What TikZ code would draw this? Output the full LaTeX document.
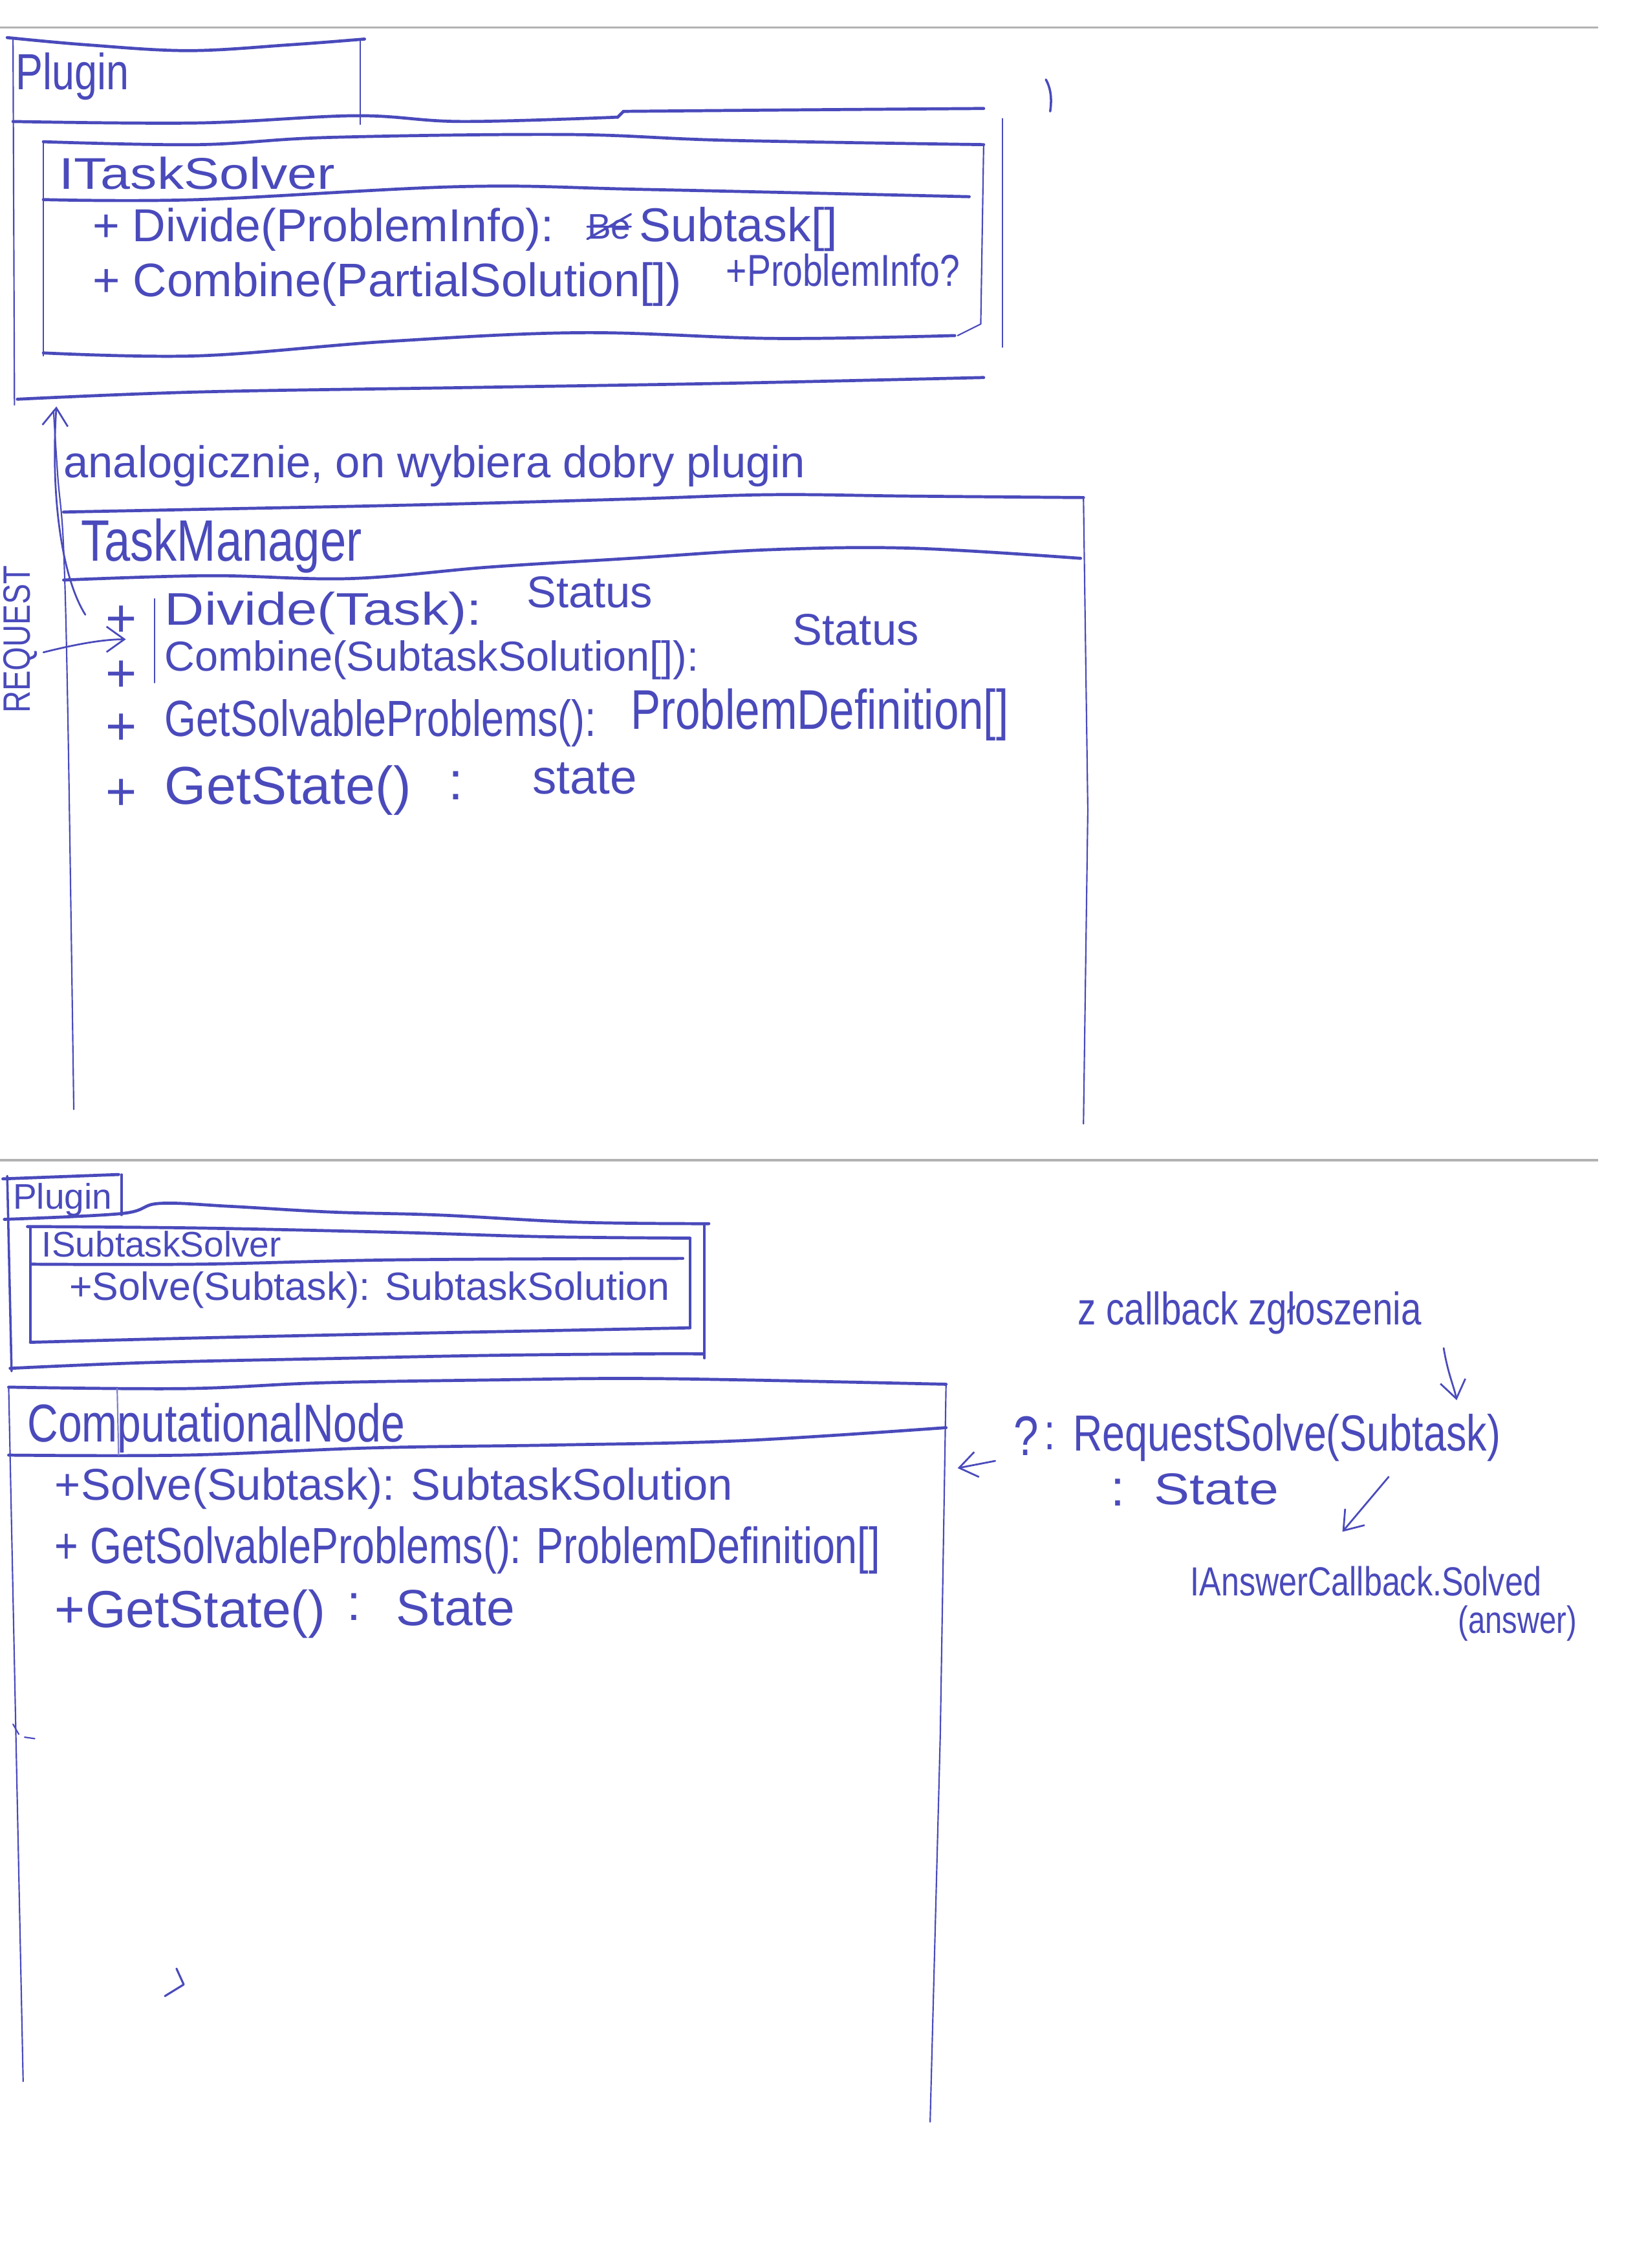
\documentclass[tikz,border=0pt]{standalone}
\usepackage{fontspec}
\newfontfamily\handN[FakeStretch=0.8]{Liberation Sans}
\newfontfamily\handR{Liberation Sans}
\newfontfamily\handW[FakeStretch=1.2]{Liberation Sans}
\newcommand\hN[1]{\handN\fontsize{#1}{#1}\selectfont}
\newcommand\hR[1]{\handR\fontsize{#1}{#1}\selectfont}
\newcommand\hW[1]{\handW\fontsize{#1}{#1}\selectfont}
\usetikzlibrary{arrows.meta}
\definecolor{ink}{RGB}{74,74,188}
\begin{document}
\begin{tikzpicture}[x=0.02cm,y=-0.02cm,
  heavy/.style={draw=ink,line width=1.2pt,line cap=round,line join=round},
  medium/.style={draw=ink,line width=0.9pt,line cap=round,line join=round},
  thin/.style={draw=ink,line width=0.55pt,line cap=round,line join=round},
  scan/.style={draw=black!30,line width=0.9pt},
  txt/.style={text=ink,anchor=base west,inner sep=0pt,outer sep=0pt},
  arr/.style={draw=ink,line width=0.7pt,line cap=round,-{Straight Barb[length=7pt,width=10pt]}},
]
\fill[white] (0,0) rectangle (1130,1568);
\useasboundingbox (0,0) rectangle (1130,1568);

% ---- scan edges
\draw[scan] (0,19) -- (1105,19);
\draw[scan] (0,802) -- (1105,802);

% ================= TOP: Plugin package =================
\draw[heavy] plot[smooth,tension=0.6] coordinates {(5,26) (60,31) (130,35) (200,31) (252,27)};
\draw[thin] (249,27) -- (249,86);
\draw[thin] (9,27) -- (10,280);
\draw[heavy] plot[smooth,tension=0.6] coordinates {(9,84) (137,85) (246,80) (319,84) (427,81)};
\draw[heavy] (427,81) -- (431,77);
\draw[heavy] plot[smooth,tension=0.6] coordinates {(431,77) (547,76) (680,75)};
\draw[thin] (693,82) -- (693,240);
\draw[heavy] plot[smooth,tension=0.6] coordinates {(12,276) (137,271) (319,268) (502,265) (680,261)};
% stray mark
\draw[thin,line width=0.9pt] (723,55) .. controls (727,62) and (727,70) .. (726,77);

% ITaskSolver box
\draw[heavy] plot[smooth,tension=0.6] coordinates {(30,98) (137,100) (228,95) (392,93) (502,97) (680,100)};
\draw[heavy] plot[smooth,tension=0.6] coordinates {(30,138) (137,138) (319,129) (447,131) (670,136)};
\draw[thin] (30,98) -- (30,246);
\draw[thin] (680,100) -- (678,224) -- (662,232);
\draw[heavy] plot[smooth,tension=0.6] coordinates {(30,244) (137,246) (269,236) (402,230) (536,234) (660,232)};

\node[txt,font={\hN{20}}] (plugin1) at (11,62) {Plugin};
\node[txt,font={\hW{17.5}}] (itasksolver) at (41,131) {ITaskSolver};
\node[txt,font={\hR{18.2}}] (divA) at (64,167) {+ Divide(ProblemInfo):};
\node[txt,font={\hR{14}}] (be) at (406,165) {Be};
\draw[thin,line width=0.9pt] (be.south west) -- (be.north east);
\draw[thin,line width=0.9pt] (be.west) -- (be.east);
\node[txt,font={\hR{18.7}}] (divB) at (442,167) {Subtask[]};
\node[txt,font={\hR{18.5}}] (comA) at (64,205) {+ Combine(PartialSolution[])};
\node[txt,font={\hN{17.6}}] (comB) at (502,198) {+ProblemInfo?};

% ================= MIDDLE: TaskManager =================
\node[txt,font={\hR{17.5}}] (note1) at (44,330) {analogicznie, on wybiera dobry plugin};

\draw[thin] plot[smooth,tension=0.6] coordinates {(37,284) (40,330) (44,380) (47,500) (51,767)};
\draw[heavy] plot[smooth,tension=0.6] coordinates {(44,354) (145,352) (291,349) (436,345) (533,342) (630,343) (749,344)};
\draw[thin] (749,344) -- (752,560) -- (749,777);
\draw[heavy] plot[smooth,tension=0.6] coordinates {(44,401) (145,398) (242,400) (339,392) (436,386) (533,380) (630,379) (747,386)};

\node[txt,font={\hN{23}}] (taskmanager) at (56,388) {TaskManager};

\node[txt,font={\hR{21}}] (tp1) at (73,440) {+};
\node[txt,font={\hR{21}}] (tp2) at (73,478) {+};
\node[txt,font={\hR{21}}] (tp3) at (73,515) {+};
\node[txt,font={\hR{21}}] (tp4) at (73,560) {+};
\draw[thin] (107,414) -- (107,472);

\node[txt,font={\hW{18}}] (tmD1) at (114,432) {Divide(Task):};
\node[txt,font={\hR{17.5}}] (tmD2) at (364,420) {Status};
\node[txt,font={\hR{16.5}}] (tmC1) at (114,464) {Combine(SubtaskSolution[]):};
\node[txt,font={\hR{17.5}}] (tmC2) at (548,446) {Status};
\node[txt,font={\hN{20}}] (tmG1) at (114,509) {GetSolvableProblems():};
\node[txt,font={\hN{22}}] (tmG2) at (436,504) {ProblemDefinition[]};
\node[txt,font={\hR{21}}] (tmS1) at (114,556) {GetState()};
\node[txt,font={\hR{21}}] (tmS2) at (310,553) {:};
\node[txt,font={\hR{19}}] (tmS3) at (368,549) {state};

\node[text=ink,inner sep=0pt,rotate=90,font={\hN{15}}] (request) at (14,442) {REQUEST};

% arrows at left
\coordinate (reqS) at (30,451);
\coordinate (reqE) at (87,442);
\draw[arr] (reqS) .. controls (50,446) and (70,442) .. (reqE);
\coordinate (upS) at (59,425);
\coordinate (upE) at (39,281);
\draw[arr] (upS) .. controls (42,398) and (35,340) .. (upE);

% ================= BOTTOM: Plugin package =================
\draw[heavy] (2,815) -- (82,812);
\draw[medium] (84,812) -- (84,840);
\draw[medium] (5,813) -- (8,948);
\draw[heavy] plot[smooth,tension=0.6] coordinates {(3,843) (84,839) (110,832) (159,834) (230,838) (303,840) (400,845) (490,846)};
\draw[medium] (487,846) -- (487,939);
\draw[heavy] plot[smooth,tension=0.6] coordinates {(7,946) (103,942) (240,939) (342,937) (445,936) (486,936)};

% ISubtaskSolver
\draw[heavy] plot[smooth,tension=0.6] coordinates {(19,848) (137,849) (274,852) (376,855) (477,856)};
\draw[medium] (21,848) -- (21,927);
\draw[medium] (477,856) -- (477,918);
\draw[heavy] plot[smooth,tension=0.6] coordinates {(21,928) (137,925) (274,922) (376,920) (477,918)};
\draw[heavy] plot[smooth,tension=0.6] coordinates {(22,874) (137,874) (274,871) (472,870)};

\node[txt,font={\hR{14}}] (plugin2) at (9,836) {Plugin};
\node[txt,font={\hR{14}}] (isubtasksolver) at (29,869) {ISubtaskSolver};
\node[txt,font={\hR{15.5}}] (issSolve) at (48,899) {+Solve(Subtask): SubtaskSolution};

% ComputationalNode
\draw[heavy] plot[smooth,tension=0.6] coordinates {(6,959) (128,960) (223,956) (342,954) (428,953) (513,954) (654,957)};
\draw[thin] (6,959) -- (11,1200) -- (16,1439);
\draw[thin] (654,957) -- (650,1200) -- (643,1467);
\draw[heavy] plot[smooth,tension=0.6] coordinates {(6,1006) (128,1006) (257,1001) (385,999) (513,996) (654,987)};
\draw[thin,draw=ink!70] (81,960) -- (82,1006);
\draw[thin] (9,1192) -- (13,1199);
\draw[thin] (17,1201) -- (24,1202);
\draw[thin,line width=0.8pt] (122,1361) -- (127,1372) -- (114,1380);

\node[txt,font={\hN{21}}] (compnode) at (19,997) {ComputationalNode};
\node[txt,font={\hR{17.5}}] (cnSolve) at (38,1037) {+Solve(Subtask): SubtaskSolution};
\node[txt,font={\hN{20}}] (cnGet) at (38,1081) {+ GetSolvableProblems(): ProblemDefinition[]};
\node[txt,font={\hR{20.5}}] (cnS1) at (38,1125) {+GetState()};
\node[txt,font={\hR{20}}] (cnS2) at (240,1120) {:};
\node[txt,font={\hR{20}}] (cnS3) at (274,1124) {State};

% ================= RIGHT: annotations =================
\node[txt,font={\hN{18}}] (callback) at (745,916) {z callback zgłoszenia};
\node[txt,font={\hN{22}}] (rq0) at (701,1006) {?};
\node[txt,font={\hN{20}}] (rq1) at (722,1002) {:};
\node[txt,font={\hN{20}}] (rqsolve) at (742,1003) {RequestSolve(Subtask)};
\node[txt,font={\hR{20}}] (st1) at (768,1041) {:};
\node[txt,font={\hW{17.5}}] (st2) at (798,1040) {State};
\node[txt,font={\hN{16}}] (answercb) at (823,1103) {IAnswerCallback.Solved};
\node[txt,font={\hN{15}}] (answer) at (1008,1129) {(answer)};

\coordinate (dnS) at (998,932);
\coordinate (dnE) at (1007,968);
\draw[arr] (dnS) .. controls (1001,950) and (1005,958) .. (dnE);
\coordinate (lfS) at (688,1010);
\coordinate (lfE) at (662,1015);
\draw[arr] (lfS) -- (lfE);
\coordinate (dlS) at (960,1021);
\coordinate (dlE) at (928,1059);
\draw[arr] (dlS) -- (dlE);
\end{tikzpicture}
\end{document}
